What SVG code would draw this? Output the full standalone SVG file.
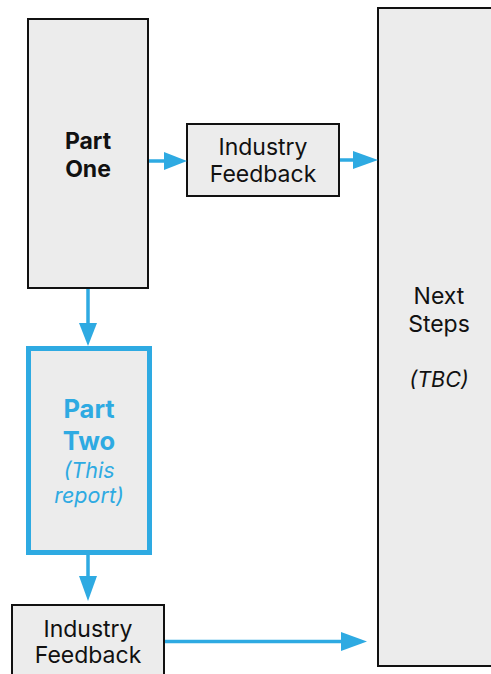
<svg xmlns="http://www.w3.org/2000/svg" width="491" height="674" viewBox="0 0 491 674">
<defs>
<style>
.box{fill:#ececec;stroke:#111;stroke-width:2}
.hl{fill:#ececec;stroke:#2eaae2;stroke-width:5}
.t{font-family:Inter,"Liberation Sans",sans-serif;font-size:23px;fill:#111;text-anchor:middle}
.b{font-weight:bold}
.big{font-size:25.5px}
.i{font-style:italic;font-size:21.5px}
.blue{fill:#2eaae2}
.c{stroke:#2eaae2;stroke-width:3.5;fill:none}
.h{fill:#2eaae2}
</style>
</defs>
<rect width="491" height="674" fill="#fff"/>
<g id="part-one">
<rect class="box" x="28" y="19" width="120" height="269"/>
<text class="t b" x="88" y="149">Part</text>
<text class="t b" x="88" y="177">One</text>
</g>
<g id="industry-feedback-top">
<rect class="box" x="187" y="124" width="152" height="72"/>
<text class="t" x="263" y="155">Industry</text>
<text class="t" x="263" y="182">Feedback</text>
</g>
<g id="next-steps">
<rect class="box" x="378" y="8" width="124" height="658"/>
<text class="t" x="439" y="304">Next</text>
<text class="t" x="439" y="332">Steps</text>
<text class="t i" x="439" y="387">(TBC)</text>
</g>
<g id="part-two">
<rect class="hl" x="28.5" y="348.5" width="121" height="204"/>
<text class="t b big blue" x="89" y="418">Part</text>
<text class="t b big blue" x="89" y="450">Two</text>
<text class="t i blue" x="89" y="478">(This</text>
<text class="t i blue" x="89" y="503">report)</text>
</g>
<g id="industry-feedback-bottom">
<rect class="box" x="12" y="605" width="152" height="80"/>
<text class="t" x="88" y="637">Industry</text>
<text class="t" x="88" y="663">Feedback</text>
</g>
<g id="connectors">
<line class="c" x1="149" y1="161" x2="165" y2="161"/>
<polygon class="h" points="164,152 187,161 164,170"/>
<line class="c" x1="340" y1="160" x2="354" y2="160"/>
<polygon class="h" points="353,151 378,160 353,169"/>
<line class="c" x1="88" y1="289" x2="88" y2="325"/>
<polygon class="h" points="79,323 88,346 97,323"/>
<line class="c" x1="88" y1="555" x2="88" y2="578"/>
<polygon class="h" points="79,576 88,601 97,576"/>
<line class="c" x1="165" y1="641.5" x2="342" y2="641.5"/>
<polygon class="h" points="341,632 367,641.5 341,651"/>
</g>
</svg>
